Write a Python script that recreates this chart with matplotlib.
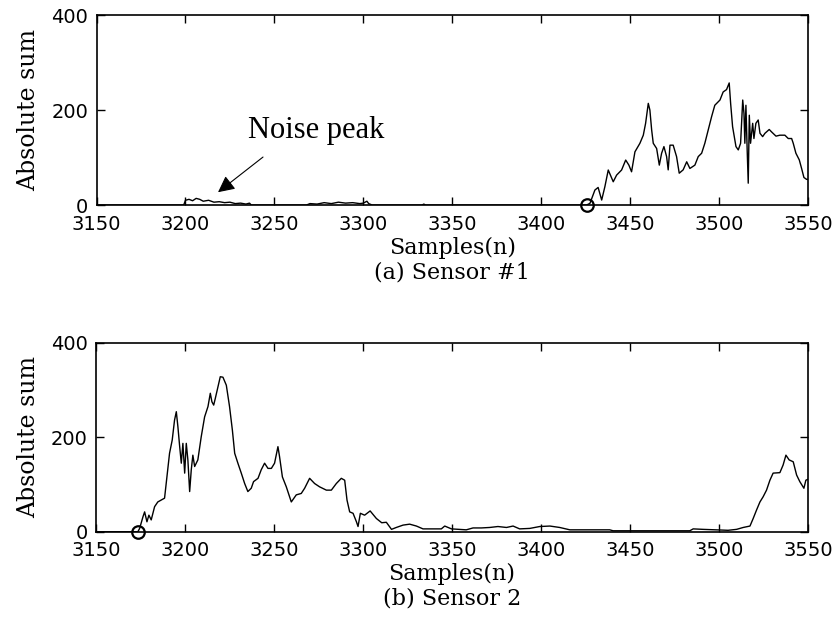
import matplotlib
matplotlib.use("Agg")
import matplotlib.pyplot as plt

# sensor 1 (top)
s1_x = [3150, 3199, 3200, 3202, 3204, 3206, 3208, 3210, 3213, 3216, 3219, 3222,
        3225, 3228, 3231, 3234, 3236, 3237, 3268, 3270, 3274, 3278, 3282, 3286,
        3290, 3294, 3298, 3300, 3302, 3303, 3305, 3333, 3334, 3335, 3425.5,
        3427.4, 3430.2, 3432, 3434, 3435.8, 3437.7, 3440.5, 3442.4, 3445.2,
        3447.5, 3449.3, 3450.8, 3452.7, 3455.5, 3457.4, 3458.7, 3460.2, 3461.1,
        3462.1, 3463, 3464.9, 3466.4, 3467.7, 3469, 3470.5, 3471.4, 3472.4,
        3474.2, 3476.1, 3477.6, 3479.8, 3481.8, 3483.6, 3486.4, 3488.3, 3490.2,
        3492, 3493.9, 3495.8, 3497.6, 3500.5, 3502.3, 3504.2, 3505.7, 3506.5,
        3507.6, 3509.5, 3510.8, 3512.1, 3513.3, 3514, 3514.5, 3515.1, 3515.8,
        3516.4, 3517, 3517.7, 3518.9, 3519.6, 3520.7, 3522, 3523, 3524.5,
        3525.8, 3528.2, 3529.5, 3532, 3534.2, 3537, 3538.9, 3540.8, 3541.7,
        3543.2, 3545.1, 3546.4, 3547.7, 3549.2, 3550]
s1_y = [0, 0, 10, 12, 9, 14, 12, 8, 10, 6, 7, 5, 6, 3, 4, 2, 4, 0, 0, 3, 2, 5,
        3, 6, 4, 5, 3, 4, 8, 3, 0, 0, 2, 0, 0,
        3.5, 31.6, 37, 10.5, 38.6, 73.7, 49, 63, 73.7,
        94.7, 84, 70, 112, 130, 147, 172, 214, 200,
        158, 130, 119, 84, 109, 123, 102, 74, 126,
        126, 102, 67, 74, 91, 77, 84, 102, 109,
        130, 158, 186, 210, 221, 238, 243, 257, 214,
        165, 123, 116, 130, 221, 193, 130, 210, 116,
        46, 189, 130, 172, 140, 172, 179, 151, 144,
        151, 159, 154, 145, 147, 147, 140, 140, 130,
        109, 95, 77, 58, 54, 54]

# sensor 2 (bottom)
s2_x = [3150, 3173.5, 3174.5, 3176.4, 3177.3, 3178.6, 3179.7, 3181, 3182.9,
        3184.7, 3186.6, 3188.5, 3189.8, 3191.3, 3192.8, 3194.1, 3195.1, 3196,
        3196.9, 3197.9, 3198.8, 3199.8, 3200.7, 3201.6, 3202.6, 3203.5, 3204.4,
        3205.4, 3207.2, 3209.1, 3211, 3212.9, 3214.2, 3215.1, 3216.1, 3217,
        3218.5, 3219.8, 3221.3, 3223.2, 3225, 3226.6, 3227.9, 3229.7, 3231.6,
        3233.5, 3235.3, 3237.2, 3238.5, 3241, 3242.8, 3244.7, 3246.6, 3248.5,
        3250.3, 3252.2, 3253.1, 3254.7, 3256.9, 3259.7, 3262.5, 3265.3, 3267.2,
        3270, 3272.8, 3275.6, 3279.4, 3282.2, 3285, 3287.8, 3289.7, 3291,
        3292.5, 3294.4, 3296.3, 3297.2, 3298.5, 3300.9, 3304, 3307.5, 3310.5,
        3313.1, 3316, 3318.7, 3322.5, 3326.2, 3330, 3333.7, 3344, 3345.9,
        3349.7, 3358, 3361.8, 3366.5, 3371.2, 3375.8, 3380.6, 3384.3, 3388,
        3393.7, 3399.3, 3405, 3410.5, 3416.2, 3438.6, 3440.5, 3483.6, 3485.5,
        3491, 3498.6, 3505.1, 3509.9, 3513.6, 3517.4, 3519.2, 3521.1, 3523,
        3524.8, 3526.7, 3528.6, 3530.4, 3534.2, 3536, 3537.6, 3539.4, 3541.7,
        3543.6, 3545.4, 3547.7, 3548.8, 3550]
s2_y = [0, 0, 7, 32, 42, 21, 35, 25, 53,
        63, 67, 71, 116, 166, 194, 236, 254, 222,
        184, 145, 187, 124, 187, 152, 85, 131, 162,
        138, 152, 201, 243, 265, 293, 275, 268, 282,
        307, 328, 327, 310, 265, 215, 166, 145, 124,
        102, 85, 92, 106, 113, 131, 145, 134, 134,
        145, 180, 159, 116, 95, 63, 78, 81, 92,
        113, 102, 95, 88, 88, 102, 113, 109, 67,
        42, 39, 21, 11, 39, 35, 44, 28, 19,
        20, 5, 9, 14, 16, 12, 6, 6, 12,
        6, 4, 8, 8, 9, 11, 9, 12, 6,
        7, 11, 12, 9, 4, 4, 2, 2, 6,
        5, 4, 3, 5, 9, 12, 28, 46, 63,
        74, 88, 109, 124, 125, 141, 162, 152, 148,
        120, 106, 92, 109, 111]

onset1 = 3425.5
onset2 = 3173.5
xticks = [3150, 3200, 3250, 3300, 3350, 3400, 3450, 3500, 3550]
yticks = [0, 200, 400]
captions = ["(a) Sensor #1", "(b) Sensor 2"]

fig = plt.figure(figsize=(8.38, 6.33), dpi=100)
ax1 = fig.add_axes([0.1152, 0.6761, 0.849, 0.3002])
ax2 = fig.add_axes([0.1146, 0.1600, 0.8496, 0.2986])

serif = "DejaVu Serif"
for ax, x, y, onset, cap in [(ax1, s1_x, s1_y, onset1, captions[0]),
                             (ax2, s2_x, s2_y, onset2, captions[1])]:
    ax.plot(x, y, color="black", lw=1.0)
    ax.plot([onset], [0], "o", mfc="none", mec="black", ms=9, mew=1.6,
            clip_on=False, zorder=5)
    ax.set_xlim(3150, 3550)
    ax.set_ylim(0, 400)
    ax.set_xticks(xticks)
    ax.set_yticks(yticks)
    ax.tick_params(direction="in", length=6, width=1, top=True, right=True,
                   labelsize=14)
    ax.tick_params(axis="x", pad=7)
    ax.tick_params(axis="y", pad=6)
    ax.get_yticklabels()[0].set_va("center_baseline")
    for s in ax.spines.values():
        s.set_linewidth(1.2)
    ax.set_ylabel("Absolute sum", fontfamily=serif, fontsize=17, labelpad=8)
    ax.text(0.5, -0.225, "Samples(n)", transform=ax.transAxes, ha="center",
            va="center", fontfamily=serif, fontsize=16)
    ax.text(0.5, -0.355, cap, transform=ax.transAxes, ha="center",
            va="center", fontfamily=serif, fontsize=16)

ax1.annotate("", xy=(3218.3, 27), xytext=(3243.6, 101),
             arrowprops=dict(arrowstyle="-|>,head_length=1.0,head_width=0.5",
                             color="black", lw=0.8, shrinkA=0, shrinkB=0))
ax1.text(3235.2, 141, "Noise peak", fontfamily="Liberation Serif",
         fontsize=22, ha="left", va="baseline")

fig.savefig("out.png", dpi=100)
